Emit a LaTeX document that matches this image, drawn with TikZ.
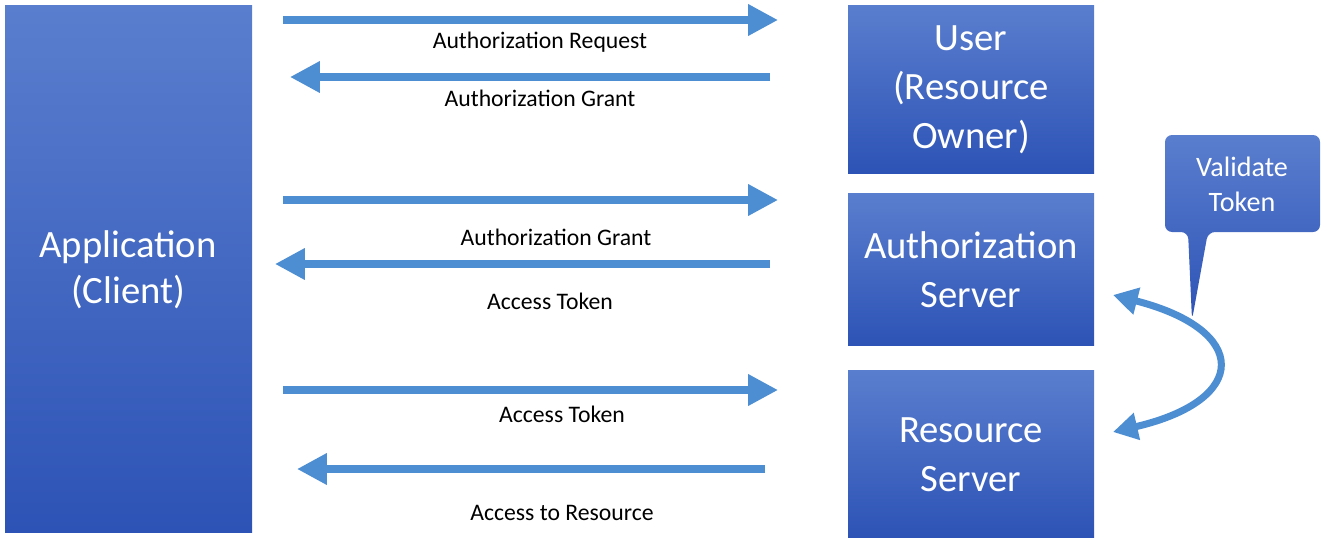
\documentclass[tikz,border=0pt]{standalone}
\usepackage{fontspec}
\setmainfont{Carlito}
\usetikzlibrary{arrows.meta}
\definecolor{btop}{HTML}{5A7ECE}
\definecolor{bbot}{HTML}{2D53B6}
\definecolor{arr}{HTML}{4D8ED2}
\begin{document}
\begin{tikzpicture}[x=0.02cm,y=-0.02cm,
  box/.style={draw=none,top color=btop,bottom color=bbot,text=white,font=\fontsize{22}{26}\selectfont,align=center,inner sep=0},
  lbl/.style={font=\fontsize{13.5}{16}\selectfont,inner sep=0},
  ar/.style={draw=arr,line width=4pt,-{Triangle[length=17pt,width=17pt]}}]
\useasboundingbox (0,0) rectangle (1328,545);
\shade[top color=btop,bottom color=bbot] (5,5) rectangle (252,532);
\node[text=white,font=\fontsize{22}{26}\selectfont,align=center] (app) at (128,270) {Application\\(Client)};
\shade[top color=btop,bottom color=bbot] (848,5) rectangle (1094,173);
\node[text=white,font=\fontsize{22}{28}\selectfont,align=center] (user) at (971,90) {User\\(Resource\\Owner)};
\shade[top color=btop,bottom color=bbot] (848,193) rectangle (1094,345);
\node[text=white,font=\fontsize{22}{28}\selectfont,align=center] (as) at (971,270) {Authorization\\Server};
\shade[top color=btop,bottom color=bbot] (848,370) rectangle (1094,537);
\node[text=white,font=\fontsize{22}{28}\selectfont,align=center] (rs) at (971,455) {Resource\\Server};
% callout
\shade[top color=btop,bottom color=bbot,rounded corners=4pt] (1165,135) -- (1320,135) -- (1320,232) -- (1208,232) -- (1192,320) -- (1188,232) -- (1165,232) -- cycle;
\node[text=white,font=\fontsize{16}{20}\selectfont,align=center] (val) at (1242,184) {Validate\\Token};
% arrows
\coordinate (a1s) at (283,20); \coordinate (a1e) at (778,20);
\coordinate (a2s) at (770,77); \coordinate (a2e) at (290,77);
\coordinate (a3s) at (283,200); \coordinate (a3e) at (778,200);
\coordinate (a4s) at (770,264); \coordinate (a4e) at (275,264);
\coordinate (a5s) at (283,390); \coordinate (a5e) at (778,390);
\coordinate (a6s) at (765,469); \coordinate (a6e) at (297,469);
\draw[ar] (a1s) -- (a1e);
\draw[ar] (a2s) -- (a2e);
\draw[ar] (a3s) -- (a3e);
\draw[ar] (a4s) -- (a4e);
\draw[ar] (a5s) -- (a5e);
\draw[ar] (a6s) -- (a6e);
\node[lbl] (l1) at (540,42) {Authorization Request};
\node[lbl] (l2) at (540,98) {Authorization Grant};
\node[lbl] (l3) at (556,237) {Authorization Grant};
\node[lbl] (l4) at (550,301) {Access Token};
\node[lbl] (l5) at (562,414) {Access Token};
\node[lbl] (l6) at (562,513) {Access to Resource};
\coordinate (c1) at (1113,295); \coordinate (c2) at (1113,432);
\draw[draw=arr,line width=4pt,{Triangle[length=14pt,width=15pt]}-{Triangle[length=14pt,width=15pt]}] (c1) .. controls (1250,330) and (1250,400) .. (c2);
\end{tikzpicture}
\end{document}
